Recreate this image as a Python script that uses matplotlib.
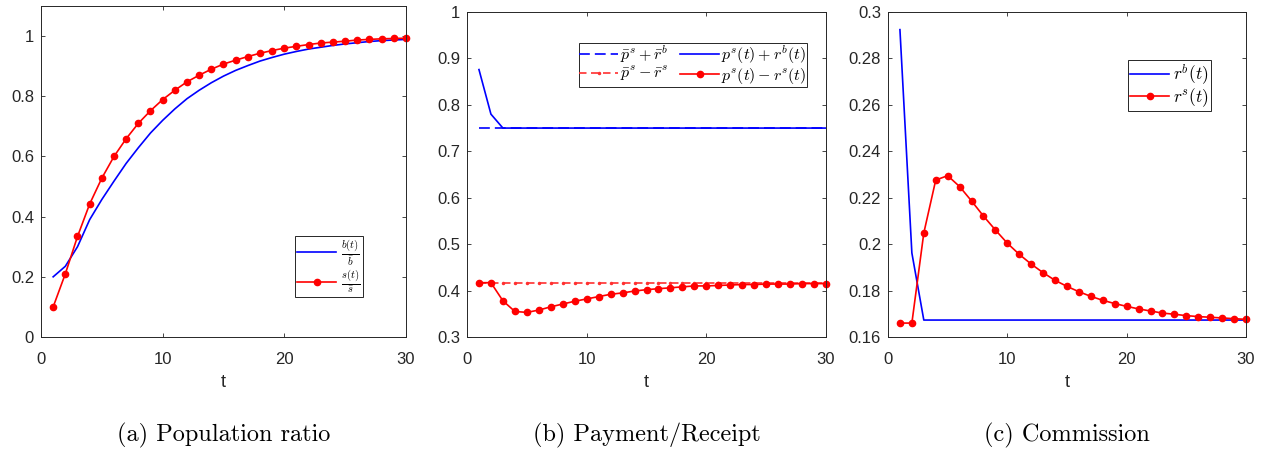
import numpy as np
import matplotlib
matplotlib.use("Agg")
import matplotlib.pyplot as plt
from matplotlib.ticker import FuncFormatter

plt.rcParams['font.family'] = ['Liberation Sans', 'DejaVu Sans']
plt.rcParams['mathtext.fontset'] = 'cm'

t = list(range(1, 31))

# (a) Population ratio
b_ratio = [0.200, 0.235, 0.300, 0.390, 0.457, 0.518, 0.577, 0.629, 0.678, 0.720,
           0.758, 0.792, 0.820, 0.845, 0.867, 0.886, 0.902, 0.917, 0.929, 0.940,
           0.949, 0.957, 0.963, 0.969, 0.974, 0.978, 0.982, 0.985, 0.987, 0.989]
s_ratio = [0.100, 0.210, 0.334, 0.442, 0.528, 0.600, 0.659, 0.710, 0.752, 0.789,
           0.820, 0.848, 0.870, 0.890, 0.907, 0.920, 0.932, 0.943, 0.952, 0.960,
           0.966, 0.972, 0.977, 0.980, 0.983, 0.987, 0.989, 0.991, 0.992, 0.993]

# (b) Payment/Receipt
pay_bar = [0.75] * 30
rec_bar = [0.4167] * 30
pay = [0.876, 0.780, 0.750, 0.750, 0.750, 0.750, 0.750, 0.750, 0.750, 0.750,
       0.750, 0.750, 0.750, 0.750, 0.750, 0.750, 0.750, 0.750, 0.750, 0.750,
       0.750, 0.750, 0.750, 0.750, 0.750, 0.750, 0.750, 0.750, 0.750, 0.750]
rec = [0.417, 0.417, 0.378, 0.355, 0.353, 0.358, 0.365, 0.371, 0.377, 0.382,
       0.387, 0.392, 0.395, 0.399, 0.402, 0.404, 0.406, 0.408, 0.410, 0.410,
       0.411, 0.412, 0.413, 0.413, 0.414, 0.414, 0.414, 0.415, 0.415, 0.415]

# (c) Commission
rb = [0.2924, 0.1962, 0.1673, 0.1673, 0.1673, 0.1673, 0.1673, 0.1673, 0.1673, 0.1673,
      0.1673, 0.1673, 0.1673, 0.1673, 0.1673, 0.1673, 0.1673, 0.1673, 0.1673, 0.1673,
      0.1673, 0.1673, 0.1673, 0.1673, 0.1673, 0.1673, 0.1673, 0.1673, 0.1673, 0.1673]
rs = [0.1660, 0.1660, 0.2048, 0.2276, 0.2295, 0.2248, 0.2186, 0.2121, 0.2061, 0.2004,
      0.1956, 0.1914, 0.1877, 0.1844, 0.1818, 0.1795, 0.1775, 0.1758, 0.1744, 0.1732,
      0.1721, 0.1712, 0.1703, 0.1698, 0.1692, 0.1688, 0.1685, 0.1682, 0.1679, 0.1676]

captions = ["(a) Population ratio", "(b) Payment/Receipt", "(c) Commission"]

W, H = 1273, 451
fig = plt.figure(figsize=(W / 100, H / 100), dpi=100)

def px_axes(l, tp, r, b):
    return fig.add_axes([l / W, 1 - b / H, (r - l) / W, (b - tp) / H])

axa = px_axes(41, 6, 406, 337)
axb = px_axes(467, 12, 826, 337)
axc = px_axes(888, 12, 1246, 337)

fmt = FuncFormatter(lambda v, p: ('%g' % round(v, 4)))
edge = '#262626'
for ax in (axa, axb, axc):
    ax.set_xlim(0, 30)
    ax.set_xticks([0, 10, 20, 30])
    ax.tick_params(direction='in', top=True, right=True, length=3, width=0.6,
                   labelsize=12, colors=edge, pad=5)
    ax.tick_params(axis='x', pad=10.5)
    ax.yaxis.set_major_formatter(fmt)
    for s in ax.spines.values():
        s.set_color(edge)
        s.set_linewidth(0.7)
    ax.set_xlabel('t', fontsize=13, color=edge, labelpad=5)

lw = 1.2
ms = 4.5

def style_legend(leg):
    leg.get_frame().set_linewidth(0.7)
    leg.get_frame().set_edgecolor(edge)

# (a)
axa.plot(t, b_ratio, color='#0000ff', lw=lw, label=r'$\frac{b(t)}{\bar{b}}$')
axa.plot(t, s_ratio, color='#ff0000', lw=lw, marker='o', ms=ms,
         label=r'$\frac{s(t)}{\bar{s}}$', clip_on=False)
axa.set_ylim(0, 1.1)
axa.set_yticks([0, 0.2, 0.4, 0.6, 0.8, 1.0])
leg = axa.legend(loc='lower right', bbox_to_anchor=(0.882, 0.121), borderaxespad=0,
                 fontsize=11, fancybox=False, framealpha=1, handlelength=2.55,
                 borderpad=0.15, labelspacing=0.0, handletextpad=0.35)
style_legend(leg)

# (b)
h1, = axb.plot(t, pay_bar, color='#0000ff', lw=lw, dashes=(6.5, 3),
               label=r'$\bar{p}^s+\bar{r}^b$')
h2, = axb.plot(t, rec_bar, color='#ff3030', lw=lw, dashes=(4.5, 2.7), marker='.', ms=3,
               label=r'$\bar{p}^s-\bar{r}^s$')
h3, = axb.plot(t, pay, color='#0000ff', lw=lw, label=r'$p^s(t)+r^b(t)$')
h4, = axb.plot(t, rec, color='#ff0000', lw=lw, marker='o', ms=ms,
               label=r'$p^s(t)-r^s(t)$', clip_on=False)
axb.set_ylim(0.3, 1.0)
axb.set_yticks([0.3, 0.4, 0.5, 0.6, 0.7, 0.8, 0.9, 1.0])
leg = axb.legend(handles=[h1, h2, h3, h4], ncol=2, loc='upper right',
                 bbox_to_anchor=(0.947, 0.905), borderaxespad=0, fontsize=11.5,
                 fancybox=False, framealpha=1, handlelength=2.4, borderpad=0.05,
                 labelspacing=0.0, handletextpad=0.15, columnspacing=0.75)
style_legend(leg)

# (c)
axc.plot(t, rb, color='#0000ff', lw=lw, label=r'$r^b(t)$')
axc.plot(t, rs, color='#ff0000', lw=lw, marker='o', ms=ms, label=r'$r^s(t)$',
         clip_on=False)
axc.set_ylim(0.16, 0.3)
axc.set_yticks([0.16, 0.18, 0.2, 0.22, 0.24, 0.26, 0.28, 0.3])
leg = axc.legend(loc='upper right', bbox_to_anchor=(0.901, 0.852), borderaxespad=0,
                 fontsize=12.5, fancybox=False, framealpha=1, handlelength=2.25,
                 borderpad=0.12, labelspacing=0.0, handletextpad=0.2)
style_legend(leg)

for ax, cap in zip((axa, axb, axc), captions):
    pos = ax.get_position()
    fig.text((pos.x0 + pos.x1) / 2, 1 - 435 / H, cap, ha='center', va='center',
             fontsize=17.5, family=['cmr10', 'DejaVu Serif'])

fig.savefig('out.png', dpi=100)
